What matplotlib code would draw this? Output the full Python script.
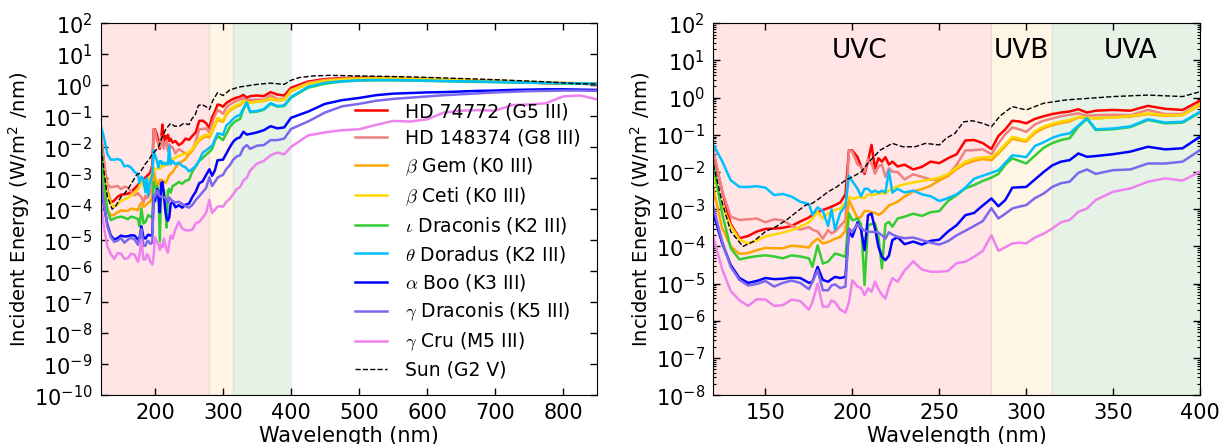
import numpy as np
import matplotlib
matplotlib.use("Agg")
import matplotlib.pyplot as plt
from matplotlib.ticker import LogLocator, NullLocator, MultipleLocator

plt.rcParams['font.family'] = ['DejaVu Sans']
plt.rcParams['mathtext.fontset'] = 'cm'
plt.rcParams['axes.unicode_minus'] = False

# wavelength grid shared by the stellar spectra (nm)
wavelength = [120, 125, 130, 135, 140, 145, 150, 155, 160, 165, 170, 175, 177, 180, 183, 186,
              188, 190, 193, 196, 198, 200, 203, 205, 207, 209, 211, 213, 215, 217, 219, 221,
              223, 226, 230, 235, 240, 245, 250, 255, 260, 265, 270, 275, 280, 284, 288, 292,
              296, 300, 305, 310, 315, 320, 325, 330, 335, 340, 350, 360, 370, 380, 390, 400,
              425, 450, 475, 500, 525, 550, 575, 600, 625, 650, 675, 700, 725, 750, 775, 800,
              825, 850]

# log10 of incident energy (W/m^2/nm)
hd74772 = [-1.5, -2.5, -3.4, -3.78, -3.72, -3.6, -3.53, -3.52, -3.5, -3.45, -3.33, -3.22, -3.15, -3.08, -3.02, -2.97,
           -2.93, -2.89, -2.82, -2.6, -1.42, -1.42, -1.6, -1.85, -2.05, -1.7, -1.27, -1.9, -1.63, -1.72, -1.6, -1.8,
           -1.72, -1.85, -1.8, -1.93, -1.86, -1.72, -1.76, -1.63, -1.52, -1.15, -1.14, -1.22, -1.38, -1.03, -0.85, -0.62,
           -0.64, -0.69, -0.57, -0.5, -0.44, -0.4, -0.37, -0.31, -0.40, -0.35, -0.33, -0.35, -0.22, -0.30, -0.33, -0.08,
           0.12, 0.2, 0.23, 0.25, 0.25, 0.24, 0.23, 0.21, 0.19, 0.17, 0.15, 0.13, 0.11, 0.09, 0.07, 0.06,
           0.05, 0.04]
hd148374 = [-1.4, -2.5, -3.2, -3.29, -3.27, -3.25, -3.35, -3.27, -3.3, -3.44, -3.55, -3.48, -3.55, -3.6, -3.79, -3.56,
            -3.65, -3.6, -3.45, -3.3, -1.42, -1.45, -1.8, -1.85, -2.0, -1.65, -1.75, -2.04, -1.85, -1.8, -2.13, -1.9,
            -1.99, -2.0, -2.2, -2.06, -2.13, -2.2, -2.22, -2.1, -1.8, -1.42, -1.41, -1.39, -1.52, -1.23, -0.98, -0.80,
            -0.85, -0.92, -0.72, -0.62, -0.56, -0.5, -0.46, -0.42, -0.49, -0.47, -0.46, -0.47, -0.33, -0.44, -0.44, -0.15,
            0.08, 0.17, 0.21, 0.23, 0.23, 0.22, 0.21, 0.2, 0.18, 0.16, 0.14, 0.12, 0.1, 0.09, 0.07, 0.06,
            0.05, 0.04]
beta_gem = [-2.45, -3.5, -4.0, -4.2, -4.18, -4.1, -4.04, -4.05, -4.05, -3.98, -4.0, -4.03, -3.9, -3.79, -3.92, -3.88,
            -3.84, -3.79, -3.75, -3.58, -2.75, -2.95, -3.25, -3.2, -3.05, -3.05, -3.08, -3.1, -3.15, -3.1, -3.0, -2.9,
            -2.86, -2.8, -2.66, -2.52, -2.46, -2.37, -2.22, -2.1, -1.92, -1.78, -1.7, -1.65, -1.68, -1.5, -1.3, -1.1,
            -1.15, -1.18, -0.95, -0.82, -0.74, -0.68, -0.64, -0.53, -0.56, -0.55, -0.53, -0.51, -0.44, -0.49, -0.47, -0.2,
            0.05, 0.15, 0.2, 0.22, 0.23, 0.23, 0.22, 0.21, 0.2, 0.18, 0.16, 0.15, 0.13, 0.11, 0.1, 0.08,
            0.07, 0.06]
beta_ceti = [-2.1, -2.9, -3.45, -3.82, -3.92, -3.84, -3.73, -3.68, -3.63, -3.56, -3.47, -3.35, -3.25, -3.07, -3.25, -3.11,
             -3.08, -3.02, -2.98, -2.82, -2.66, -2.72, -2.68, -2.68, -2.7, -2.6, -2.62, -2.6, -2.58, -2.57, -2.57, -2.5,
             -2.45, -2.38, -2.33, -2.28, -2.24, -2.2, -2.15, -2.05, -1.88, -1.72, -1.64, -1.6, -1.6, -1.45, -1.25, -1.05,
             -1.1, -1.14, -0.9, -0.78, -0.7, -0.64, -0.6, -0.51, -0.53, -0.56, -0.53, -0.49, -0.42, -0.47, -0.47, -0.17,
             0.04, 0.14, 0.19, 0.21, 0.22, 0.22, 0.21, 0.2, 0.19, 0.17, 0.15, 0.14, 0.12, 0.1, 0.09, 0.07,
             0.06, 0.05]
iota_dra = [-1.77, -3.1, -4.05, -4.35, -4.3, -4.26, -4.24, -4.27, -4.32, -4.24, -4.27, -4.32, -4.55, -3.97, -4.46, -4.41,
            -4.3, -4.19, -4.23, -4.28, -3.11, -3.3, -3.25, -3.4, -5.04, -3.43, -3.4, -3.38, -3.75, -4.59, -3.4, -3.34,
            -3.47, -3.25, -3.2, -3.12, -3.18, -3.08, -3.05, -2.78, -2.62, -2.44, -2.35, -2.24, -2.15, -2.05, -1.8, -1.63,
            -1.7, -1.77, -1.56, -1.35, -1.22, -1.14, -1.09, -0.78, -0.57, -0.87, -0.85, -0.79, -0.6, -0.69, -0.67, -0.4,
            -0.08, 0.05, 0.12, 0.15, 0.16, 0.16, 0.15, 0.14, 0.13, 0.12, 0.11, 0.1, 0.09, 0.08, 0.07, 0.06,
            0.05, 0.04]
theta_dor = [-1.27, -1.7, -2.22, -2.4, -2.4, -2.38, -2.42, -2.62, -2.59, -2.66, -2.8, -2.86, -3.15, -2.95, -3.05, -3.45,
             -3.0, -3.55, -3.1, -2.9, -2.1, -2.25, -2.45, -2.65, -2.45, -2.45, -2.55, -2.5, -2.55, -2.5, -2.55, -1.96,
             -2.55, -2.45, -2.55, -2.5, -2.6, -2.65, -2.78, -2.7, -2.6, -2.42, -2.18, -2.1, -2.02, -1.95, -1.75, -1.55,
             -1.57, -1.6, -1.3, -1.2, -1.08, -1.0, -0.96, -0.75, -0.55, -0.85, -0.83, -0.77, -0.58, -0.67, -0.65, -0.38,
             -0.05, 0.08, 0.13, 0.16, 0.17, 0.17, 0.16, 0.15, 0.14, 0.13, 0.12, 0.11, 0.1, 0.09, 0.08, 0.07,
             0.06, 0.05]
alpha_boo = [-3.11, -3.9, -4.5, -4.85, -4.98, -4.93, -4.85, -4.88, -4.87, -4.84, -4.85, -4.98, -4.95, -4.55, -4.9, -4.95,
             -4.88, -4.82, -4.85, -4.82, -3.6, -3.74, -3.35, -3.56, -4.1, -3.16, -3.12, -3.52, -4.01, -4.28, -4.37, -4.25,
             -3.83, -3.75, -3.94, -3.87, -3.95, -3.85, -3.82, -3.6, -3.43, -3.16, -3.1, -2.9, -2.71, -2.92, -2.75, -2.42,
             -2.41, -2.4, -2.2, -2.0, -1.82, -1.72, -1.68, -1.5, -1.59, -1.57, -1.52, -1.45, -1.32, -1.39, -1.36, -1.05,
             -0.85, -0.6, -0.48, -0.41, -0.32, -0.27, -0.25, -0.23, -0.22, -0.2, -0.18, -0.17, -0.15, -0.14, -0.13, -0.13,
             -0.14, -0.15]
gamma_dra = [-2.95, -3.85, -4.55, -4.9, -5.05, -5.01, -4.93, -5.08, -4.98, -4.92, -4.98, -5.15, -4.95, -4.64, -5.18, -5.18,
             -5.05, -5.02, -5.12, -5.08, -3.52, -3.6, -3.4, -3.5, -3.58, -3.6, -3.61, -3.61, -3.63, -3.7, -3.79, -3.62,
             -3.68, -3.74, -3.78, -3.76, -3.83, -3.9, -3.95, -3.86, -3.7, -3.58, -3.45, -3.32, -2.97, -3.25, -3.12, -2.98,
             -2.93, -2.89, -2.7, -2.58, -2.4, -2.3, -2.26, -2.02, -1.93, -2.05, -1.95, -1.93, -1.77, -1.77, -1.72, -1.41,
             -1.17, -0.88, -0.68, -0.6, -0.5, -0.44, -0.4, -0.36, -0.32, -0.29, -0.26, -0.23, -0.21, -0.19, -0.18, -0.17,
             -0.17, -0.18]
gamma_cru = [-3.74, -4.6, -5.2, -5.45, -5.6, -5.42, -5.43, -5.6, -5.58, -5.43, -5.47, -5.7, -5.5, -5.0, -5.62, -5.62,
             -5.45, -5.5, -5.7, -5.78, -5.5, -4.91, -5.08, -5.12, -5.31, -5.13, -5.22, -4.95, -5.15, -5.3, -5.4, -5.09,
             -4.85, -4.95, -4.65, -4.4, -4.62, -4.68, -4.68, -4.66, -4.45, -4.41, -4.28, -4.12, -3.7, -4.12, -4.02, -3.92,
             -3.9, -3.92, -3.76, -3.66, -3.52, -3.35, -3.29, -3.07, -2.98, -2.75, -2.53, -2.44, -2.26, -2.17, -2.23, -1.99,
             -1.62, -1.52, -1.45, -1.42, -1.28, -1.15, -1.17, -1.1, -0.88, -0.82, -0.8, -0.82, -0.64, -0.62, -0.58, -0.36,
             -0.33, -0.45]

# solar spectrum on its own grid
sun_wavelength = [120, 125, 130, 137, 143, 150, 156, 162, 168, 173, 177, 181, 186, 191, 196, 200, 205, 210,
                  216, 223, 229, 236, 242, 250, 254, 259, 264, 269, 275, 280, 285, 292, 300, 310, 323, 335,
                  350, 370, 390, 400, 412, 432, 456, 505, 578, 676, 725, 775, 822, 850]
sun = [-1.8, -2.8, -3.6, -4.0, -3.87, -3.6, -3.47, -3.29, -3.07, -2.89, -2.84, -2.71, -2.53, -2.4, -2.22, -2.13, -2.0, -1.7,
       -1.41, -1.23, -1.32, -1.32, -1.23, -1.27, -1.09, -0.96, -0.65, -0.62, -0.69, -0.78, -0.49, -0.24, -0.33, -0.15, -0.06, -0.02,
       0.03, 0.07, 0.03, 0.16, 0.25, 0.30, 0.32, 0.30, 0.27, 0.2, 0.16, 0.11, 0.05, 0.04]

star_labels = ['HD 74772 (G5 III)', 'HD 148374 (G8 III)', r'$\beta$ Gem (K0 III)', r'$\beta$ Ceti (K0 III)',
               r'$\iota$ Draconis (K2 III)', r'$\theta$ Doradus (K2 III)', r'$\alpha$ Boo (K3 III)',
               r'$\gamma$ Draconis (K5 III)', r'$\gamma$ Cru (M5 III)']
star_data = [hd74772, hd148374, beta_gem, beta_ceti, iota_dra, theta_dor, alpha_boo, gamma_dra, gamma_cru]
star_colors = ['red', 'lightcoral', 'orange', 'gold', 'limegreen', 'deepskyblue', 'blue', 'mediumslateblue', 'violet']

bands = [(120, 280, 'red', 'UVC'), (280, 315, 'orange', 'UVB'), (315, 400, 'green', 'UVA')]
band_label_x = [204, 297.5, 360]


def draw_panel(ax, xmax, ymin, xstep):
    for lo, hi, col, name in bands:
        ax.axvspan(lo, hi, facecolor=col, alpha=0.1, edgecolor='0.6', lw=1, zorder=0)
    wl = np.array(wavelength)
    for vals, col, lab in zip(star_data, star_colors, star_labels):
        ax.plot(wl, 10.0 ** np.array(vals), color=col, lw=1.8, label=lab)
    ax.plot(sun_wavelength, 10.0 ** np.array(sun), 'k--', lw=1, label='Sun (G2 V)')
    ax.set_yscale('log')
    ax.set_xlim(120, xmax)
    ax.set_ylim(10.0 ** ymin, 1e2)
    ax.yaxis.set_major_locator(LogLocator(base=10, numticks=30))
    ax.xaxis.set_major_locator(MultipleLocator(xstep))
    ax.tick_params(which='both', direction='in', top=True, right=True, labelsize=15, pad=6)
    ax.tick_params(which='major', length=5, width=1)
    ax.tick_params(which='minor', length=2.5, width=0.8)
    ax.set_xlabel('Wavelength (nm)', fontsize=15, labelpad=2)
    ax.set_ylabel(r'Incident Energy (W/m$^{\mathdefault{2}}$ /nm)', fontsize=14, labelpad=1)


fig = plt.figure(figsize=(12.24, 4.44), dpi=100)

ax1 = fig.add_axes([0.0822, 0.110, 0.4055, 0.8375])
draw_panel(ax1, 850, -10, 100)
ax1.yaxis.set_minor_locator(NullLocator())
ax1.legend(loc='center left', bbox_to_anchor=(0.478, 0.415), frameon=False, fontsize=13.5,
           handlelength=1.7, handletextpad=1.0, labelspacing=0.4)

ax2 = fig.add_axes([0.5828, 0.110, 0.3976, 0.8375])
draw_panel(ax2, 400, -8, 50)
ax2.yaxis.set_minor_locator(LogLocator(base=10, subs=np.arange(2, 10), numticks=100))
for (lo, hi, col, name), xpos in zip(bands, band_label_x):
    ax2.text(xpos, 17.5, name, fontsize=19, ha='center', va='center')

fig.savefig('out.png', dpi=100)
